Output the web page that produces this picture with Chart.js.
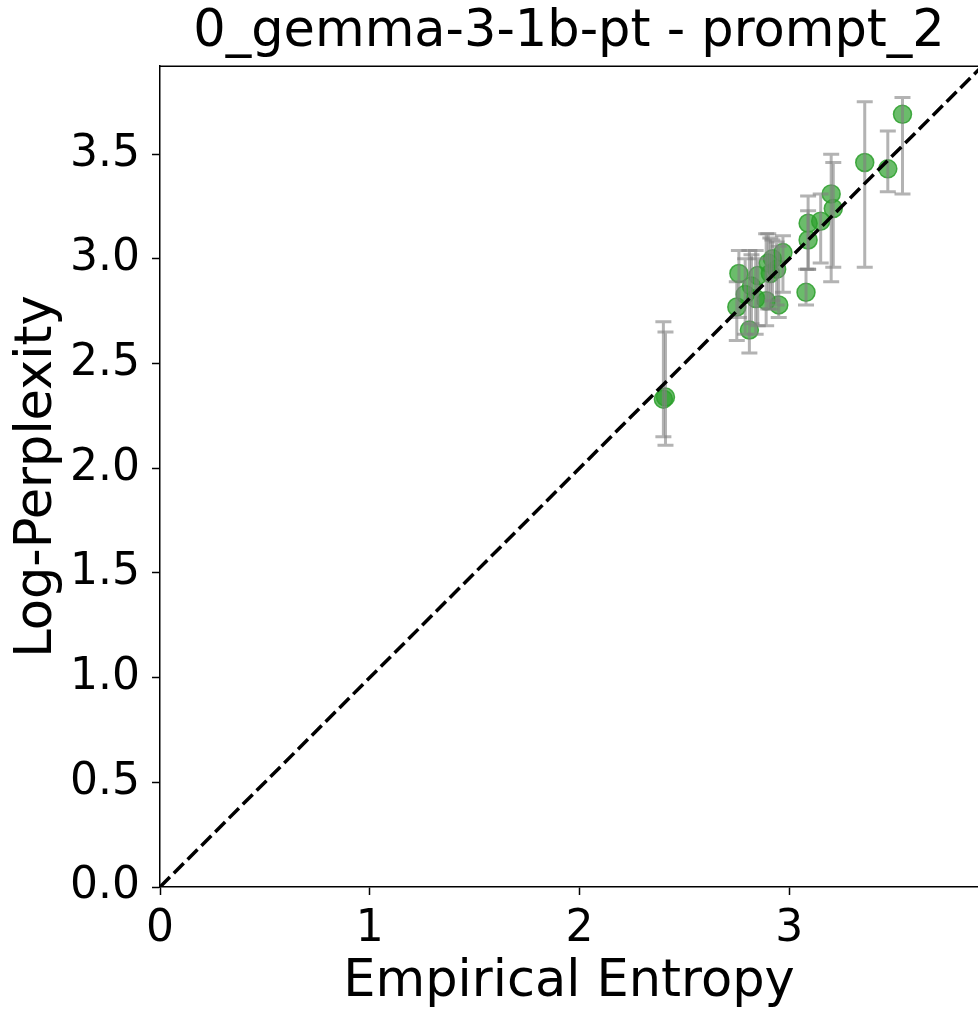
<!DOCTYPE html>
<html>
<head>
<meta charset="utf-8">
<script src="https://cdn.jsdelivr.net/npm/chart.js@4"></script>
<style>
  body { margin: 0; background: #fff; }
  #wrap { width: 978px; height: 1015px; }
</style>
</head>
<body>
<div id="wrap"><canvas id="grafico" width="978" height="1015"></canvas></div>
<script>
// dados
const entropia = [2.40, 2.41, 2.75, 2.76, 2.79, 2.81, 2.82, 2.84, 2.85, 2.89, 2.90, 2.91, 2.92, 2.94, 2.95, 2.97, 3.08, 3.09, 3.09, 3.15, 3.20, 3.21, 3.36, 3.47, 3.54];
const logPerp  = [2.33, 2.34, 2.77, 2.93, 2.83, 2.66, 2.87, 2.81, 2.92, 2.80, 2.98, 2.93, 3.00, 2.95, 2.78, 3.03, 2.84, 3.09, 3.17, 3.18, 3.31, 3.24, 3.46, 3.43, 3.69];
const erroMin  = [2.15, 2.11, 2.61, 2.72, 2.64, 2.55, 2.69, 2.64, 2.68, 2.68, 2.76, 2.76, 2.80, 2.78, 2.72, 2.84, 2.78, 2.95, 2.95, 2.98, 2.89, 2.96, 2.96, 3.32, 3.31];
const erroMax  = [2.70, 2.65, 2.89, 3.04, 3.00, 3.04, 3.02, 3.04, 3.00, 3.12, 3.12, 3.10, 3.09, 3.08, 3.06, 3.11, 2.95, 3.23, 3.30, 3.31, 3.50, 3.46, 3.75, 3.61, 3.77];
const xTicks = [0, 1, 2, 3];
const yTicks = [0, 0.5, 1.0, 1.5, 2.0, 2.5, 3.0, 3.5];
const xMax = 3.9;
const yMax = 3.92;

const pontos = entropia.map((x, i) => ({ x, y: logPerp[i] }));
const diagonal = [{ x: 0, y: 0 }, { x: yMax, y: yMax }];

// barras de erro desenhadas logo depois dos pontos
const barrasErro = {
  id: "barrasErro",
  afterDatasetDraw(chart, args) {
    if (args.index !== 0) return;
    const ctx = chart.ctx;
    const sx = chart.scales.x, sy = chart.scales.y;
    ctx.save();
    ctx.strokeStyle = "rgba(128,128,128,0.6)";
    ctx.lineWidth = 3;
    entropia.forEach((x, i) => {
      const px = sx.getPixelForValue(x);
      const y1 = sy.getPixelForValue(erroMin[i]);
      const y2 = sy.getPixelForValue(erroMax[i]);
      ctx.beginPath();
      ctx.moveTo(px, y1); ctx.lineTo(px, y2);
      ctx.moveTo(px - 8, y1); ctx.lineTo(px + 8, y1);
      ctx.moveTo(px - 8, y2); ctx.lineTo(px + 8, y2);
      ctx.stroke();
    });
    ctx.restore();
  }
};

// spine de cima (a da direita fica fora da imagem)
const moldura = {
  id: "moldura",
  afterDraw(chart) {
    const a = chart.chartArea, ctx = chart.ctx;
    ctx.save();
    ctx.strokeStyle = "#000";
    ctx.lineWidth = 1.5;
    ctx.beginPath();
    ctx.moveTo(a.left, a.top);
    ctx.lineTo(a.right + 2, a.top);
    ctx.stroke();
    ctx.restore();
  }
};

const fonte = "'DejaVu Sans', sans-serif";

new Chart(document.getElementById("grafico"), {
  type: "scatter",
  data: {
    datasets: [
      {
        data: pontos,
        backgroundColor: "rgba(44,160,44,0.7)",
        borderColor: "rgba(44,160,44,0.85)",
        borderWidth: 1.5,
        pointRadius: 9,
        order: 2
      },
      {
        type: "line",
        data: diagonal,
        borderColor: "#000",
        borderWidth: 3.5,
        borderDash: [14, 5.5],
        pointRadius: 0,
        fill: false,
        order: 1
      }
    ]
  },
  options: {
    responsive: false,
    animation: false,
    layout: { autoPadding: false, padding: { right: 0, left: 0, top: 0, bottom: 0 } },
    plugins: {
      legend: { display: false },
      tooltip: { enabled: false },
      title: {
        display: true,
        text: "0_gemma-3-1b-pt - prompt_2",
        color: "#000",
        fullSize: false,
        font: { family: fonte, size: 51, weight: "normal" },
        padding: { top: 2, bottom: 3 }
      }
    },
    scales: {
      x: {
        type: "linear",
        min: 0,
        max: xMax,
        afterFit(s) { s.height = 128; },
        afterBuildTicks(s) { s.ticks = xTicks.map(v => ({ value: v })); },
        grid: { drawOnChartArea: false, drawTicks: true, tickLength: 8, tickWidth: 1.5, tickColor: "#000" },
        border: { display: true, color: "#000", width: 1.5 },
        ticks: { color: "#000", font: { family: fonte, size: 44 }, padding: 8, maxRotation: 0,
                 callback: v => String(v) },
        title: { display: true, text: "Empirical Entropy", color: "#000",
                 font: { family: fonte, size: 51 }, padding: { top: 0, bottom: 2 } }
      },
      y: {
        type: "linear",
        min: 0,
        max: yMax,
        afterFit(s) { s.width = 160; },
        afterBuildTicks(s) { s.ticks = yTicks.map(v => ({ value: v })); },
        grid: { drawOnChartArea: false, drawTicks: true, tickLength: 8, tickWidth: 1.5, tickColor: "#000" },
        border: { display: true, color: "#000", width: 1.5 },
        ticks: { color: "#000", font: { family: fonte, size: 44 }, padding: 12,
                 callback: v => Number(v).toFixed(1) },
        title: { display: true, text: "Log-Perplexity", color: "#000",
                 font: { family: fonte, size: 51 }, padding: { top: 7, bottom: 0 } }
      }
    }
  },
  plugins: [barrasErro, moldura]
});
</script>
</body>
</html>
